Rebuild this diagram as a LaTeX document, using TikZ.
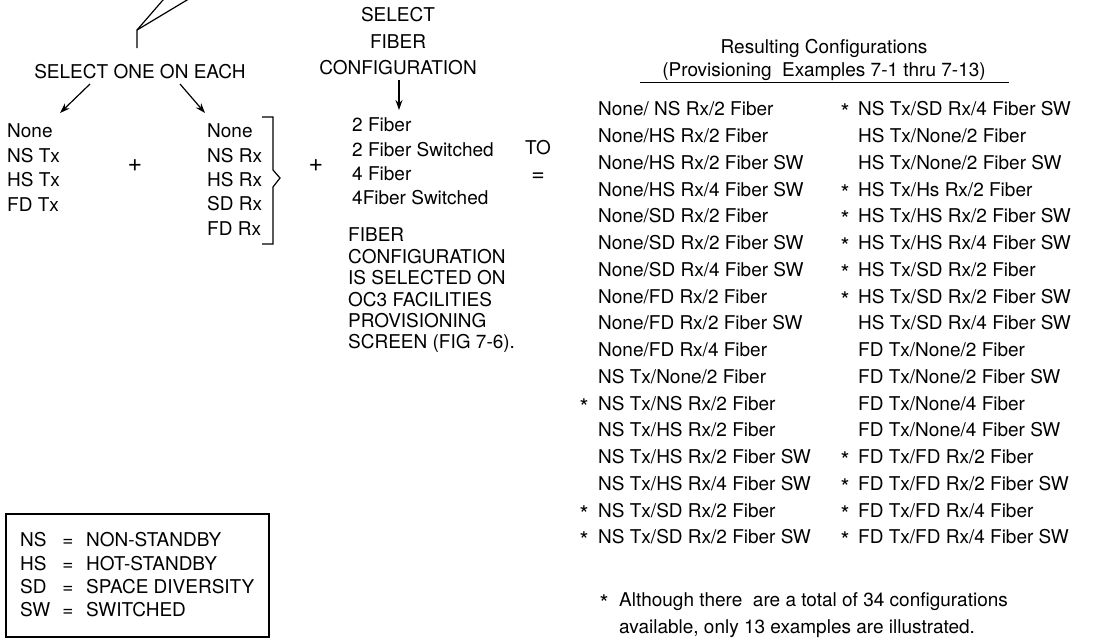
\documentclass[tikz,border=0pt]{standalone}
\usepackage{fontspec}
\setmainfont{TeX Gyre Heros}
\usetikzlibrary{arrows.meta}
\begin{document}
\begin{tikzpicture}[x=1pt,y=-1pt,
  txt/.style={inner sep=0pt,anchor=base west,font=\fontsize{19}{23}\selectfont},
  ctr/.style={inner sep=0pt,anchor=base,font=\fontsize{19}{23}\selectfont},
  big/.style={inner sep=0pt,anchor=center,font=\fontsize{25}{28}\selectfont},
  eqs/.style={inner sep=0pt,anchor=base,font=\fontsize{23}{26}\selectfont},
  star/.style={inner sep=0pt,anchor=base,font=\fontsize{23}{26}\selectfont},
  conn/.style={line width=1.2pt},
  arr/.style={conn,-{Stealth[length=10pt,width=7pt]}}]
\useasboundingbox (0,0) rectangle (1102,640);
\clip (0,0) rectangle (1102,640);
% top fork
\coordinate (fork) at (137,30);
\coordinate (forkb) at (137,48);
\coordinate (t1) at (165.6,-3);
\coordinate (t2) at (192,-3);
\draw[conn] (forkb) -- (fork) -- (t1);
\draw[conn] (fork) -- (t2);
% select one on each
\node[ctr] (sel) at (140,78.8) {SELECT ONE ON EACH};
\coordinate (a1s) at (90,84);
\coordinate (a1e) at (60,113);
\coordinate (a2s) at (180,84);
\coordinate (a2e) at (205,113);
\draw[arr] (a1s) -- (a1e);
\draw[arr] (a2s) -- (a2e);
% lists
\foreach \t [count=\i from 0] in {None,NS Tx,HS Tx,FD Tx}
  \node[txt] (tx\i) at (7,{137.8+24.4*\i}) {\t};
\foreach \t [count=\i from 0] in {None,NS Rx,HS Rx,SD Rx,FD Rx}
  \node[txt] (rx\i) at (207,{137.8+24.3*\i}) {\t};
\node[big] (plus1) at (135,166) {+};
\node[big] (plus2) at (316,166) {+};
\draw[conn] (262,117) -- (273,117) -- (273,170) -- (280,178) -- (273,187) -- (273,244) -- (262,244);
% select fiber configuration
\node[ctr] (fs1) at (398,21.8) {SELECT};
\node[ctr] (fs2) at (398,48.8) {FIBER};
\node[ctr] (fs3) at (398,74.8) {CONFIGURATION};
\coordinate (fas) at (399,80);
\coordinate (fae) at (399,110);
\draw[arr] (fas) -- (fae);
\foreach \t [count=\i from 0] in {2 Fiber,2 Fiber Switched,4 Fiber,4Fiber Switched}
  \node[txt] (fib\i) at (352,{131.8+24.3*\i}) {\t};
\foreach \t [count=\i from 0] in {FIBER,CONFIGURATION,IS SELECTED ON,OC3 FACILITIES,PROVISIONING,SCREEN (FIG 7-6).}
  \node[txt] (note\i) at (348,{241.8+21.4*\i}) {\t};
% TO =
\node[ctr] (to) at (538,154.5) {TO};
\node[eqs] (eq) at (538,181) {=};
% heading
\node[ctr] (h1) at (824,53.8) {Resulting Configurations};
\node[ctr] (h2) at (824,76.8) {(Provisioning\ \ Examples 7-1 thru 7-13)};
\coordinate (u1) at (640,82);
\coordinate (u2) at (1009,82);
\draw[line width=1pt] (u1) -- (u2);
% results column 1
\foreach \t [count=\i from 0] in {None/ NS Rx/2 Fiber,None/HS Rx/2 Fiber,None/HS Rx/2 Fiber SW,None/HS Rx/4 Fiber SW,None/SD Rx/2 Fiber,None/SD Rx/2 Fiber SW,None/SD Rx/4 Fiber SW,None/FD Rx/2 Fiber,None/FD Rx/2 Fiber SW,None/FD Rx/4 Fiber,NS Tx/None/2 Fiber,NS Tx/NS Rx/2 Fiber,NS Tx/HS Rx/2 Fiber,NS Tx/HS Rx/2 Fiber SW,NS Tx/HS Rx/4 Fiber SW,NS Tx/SD Rx/2 Fiber,NS Tx/SD Rx/2 Fiber SW}
  \node[txt] (ra\i) at (598,{115.8+26.75*\i}) {\t};
\foreach \i in {11,15,16}
  \node[star] (sa\i) at (584,{120.8+26.75*\i}) {*};
% results column 2
\foreach \t [count=\i from 0] in {NS Tx/SD Rx/4 Fiber SW,HS Tx/None/2 Fiber,HS Tx/None/2 Fiber SW,HS Tx/Hs Rx/2 Fiber,HS Tx/HS Rx/2 Fiber SW,HS Tx/HS Rx/4 Fiber SW,HS Tx/SD Rx/2 Fiber,HS Tx/SD Rx/2 Fiber SW,HS Tx/SD Rx/4 Fiber SW,FD Tx/None/2 Fiber,FD Tx/None/2 Fiber SW,FD Tx/None/4 Fiber,FD Tx/None/4 Fiber SW,FD Tx/FD Rx/2 Fiber,FD Tx/FD Rx/2 Fiber SW,FD Tx/FD Rx/4 Fiber,FD Tx/FD Rx/4 Fiber SW}
  \node[txt] (rb\i) at (858,{115.8+26.75*\i}) {\t};
\foreach \i in {0,3,4,5,6,7,13,14,15,16}
  \node[star] (sb\i) at (845,{120.8+26.75*\i}) {*};
% footnote
\node[star] (fstar) at (604,611.8) {*};
\node[txt] (fn1) at (619,606.8) {Although there\ \ are a total of 34 configurations};
\node[txt] (fn2) at (619,633.8) {available, only 13 examples are illustrated.};
% legend
\draw[conn] (6,514) rectangle (269,637);
\foreach \a/\b [count=\i from 0] in {NS/NON-STANDBY,HS/HOT-STANDBY,SD/SPACE DIVERSITY,SW/SWITCHED}{
  \node[txt] (lga\i) at (20,{546.8+23.3*\i}) {\a};
  \node[ctr] (lge\i) at (68,{546.8+23.3*\i}) {=};
  \node[txt] (lgb\i) at (86,{546.8+23.3*\i}) {\b};
}
\end{tikzpicture}
\end{document}
